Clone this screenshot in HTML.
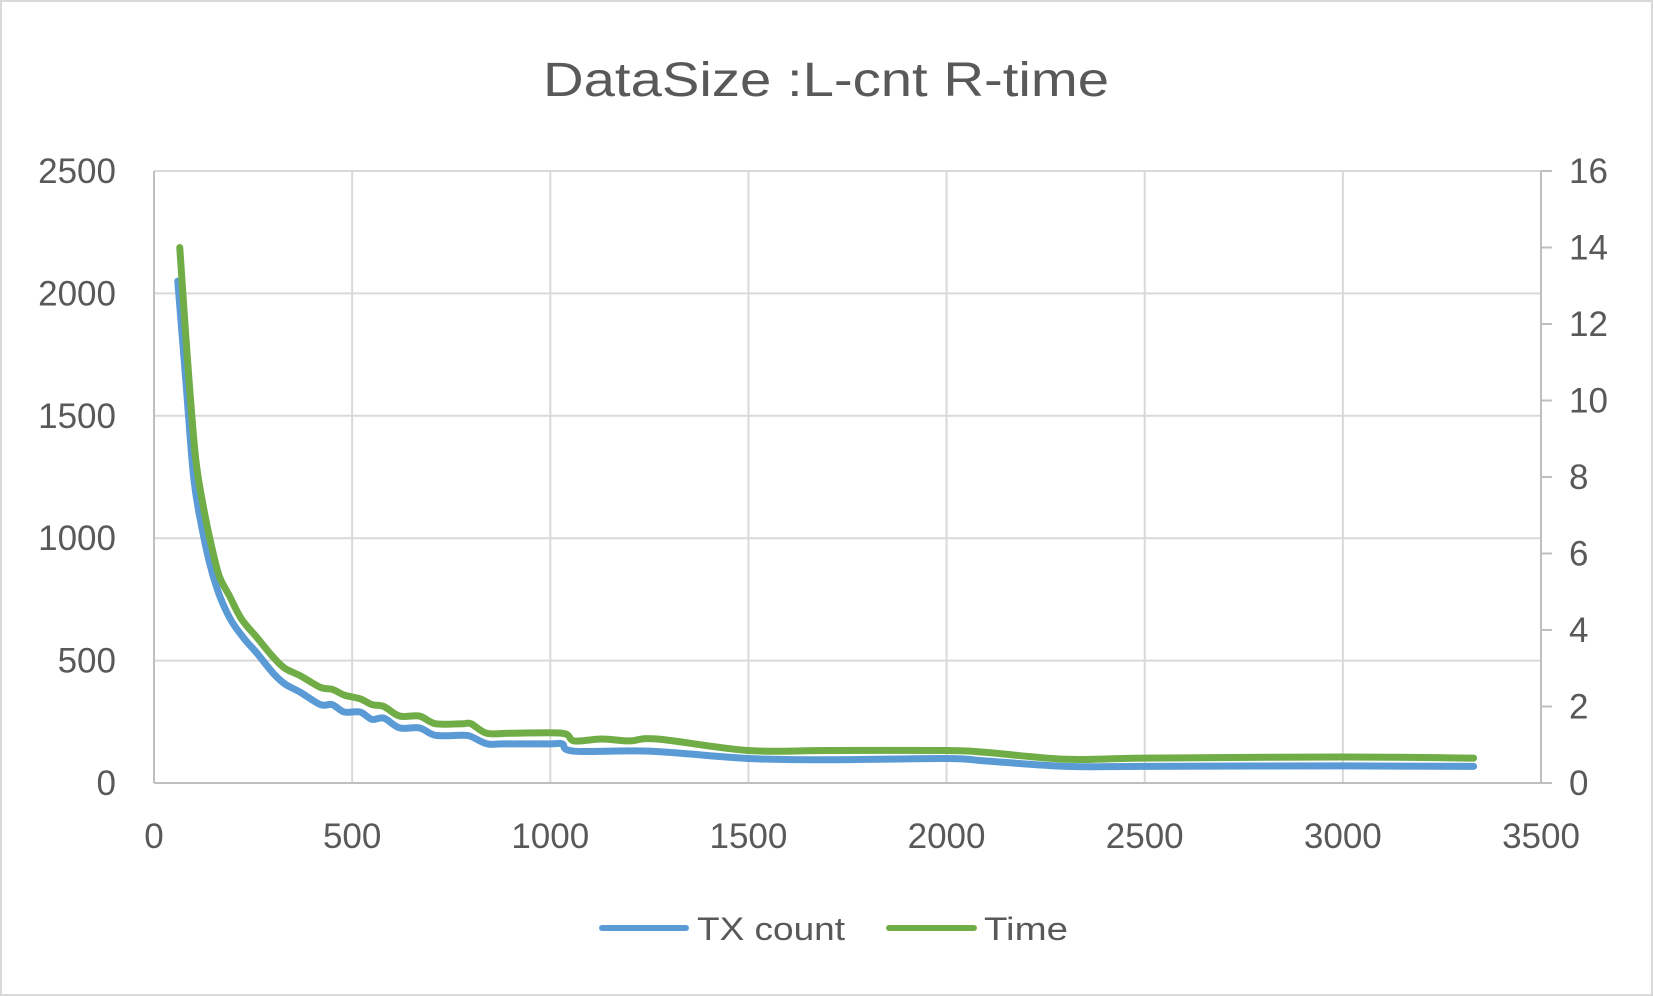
<!DOCTYPE html>
<html><head><meta charset="utf-8"><style>
html,body{margin:0;padding:0;background:#fff}
svg{display:block;font-family:"Liberation Sans",sans-serif}
</style></head><body>
<svg id="chart" width="1653" height="996" viewBox="0 0 1653 996" xmlns="http://www.w3.org/2000/svg">
<rect x="1" y="1" width="1651" height="994" fill="#fff" stroke="#d9d9d9" stroke-width="2"/>
<text x="826" y="96" text-anchor="middle" font-size="48" fill="#595959" textLength="566" lengthAdjust="spacingAndGlyphs">DataSize :L-cnt R-time</text>
<g id="grid"></g><g id="axes"></g><g id="series"></g>
<g>
<line x1="602" y1="928" x2="686" y2="928" stroke="#5B9BD5" stroke-width="6" stroke-linecap="round"/>
<text x="697" y="940" font-size="32" fill="#595959" textLength="148" lengthAdjust="spacingAndGlyphs">TX count</text>
<line x1="889" y1="928" x2="974" y2="928" stroke="#70AD47" stroke-width="6" stroke-linecap="round"/>
<text x="984" y="940" font-size="32" fill="#595959" textLength="84" lengthAdjust="spacingAndGlyphs">Time</text>
</g>
</svg>
<script>
const xTicks=[0,500,1000,1500,2000,2500,3000,3500];
const leftTicks=[0,500,1000,1500,2000,2500];
const rightTicks=[0,2,4,6,8,10,12,14,16];
const countX=[60,80,100,120,140,160,180,200,230,260,300,330,370,420,450,480,520,550,580,620,670,710,780,800,840,880,1000,1030,1060,1250,1500,1700,2000,2100,2300,2500,3000,3330];
const countY=[2050,1650,1250,1050,900,790,710,650,585,530,450,405,370,320,320,290,290,260,265,225,225,195,195,190,160,160,160,160,130,130,100,95,100,90,68,68,70,68];
const timeX=[65,85,105,125,145,165,190,220,260,300,330,370,420,450,480,520,550,580,620,670,710,780,800,840,900,1030,1060,1130,1200,1270,1500,1700,2000,2100,2300,2500,3000,3330];
const timeY=[14.0,11,8.5,7.2,6.2,5.4,4.9,4.3,3.8,3.3,3.0,2.8,2.5,2.45,2.3,2.2,2.05,2.0,1.75,1.75,1.55,1.55,1.55,1.3,1.3,1.3,1.1,1.15,1.1,1.15,0.85,0.85,0.85,0.8,0.62,0.65,0.68,0.65];
const L=154,R=1541,T=171,B=783;
const sx=v=>L+(v-0)/3500*(R-L);
const syL=v=>B-v/2500*(B-T);
const syR=v=>B-v/16*(B-T);
const NS="http://www.w3.org/2000/svg";
function mk(tag,parent,attrs){const e=document.createElementNS(NS,tag);for(const k in attrs)e.setAttribute(k,attrs[k]);parent.appendChild(e);return e;}
const grid=document.getElementById('grid'),axes=document.getElementById('axes'),series=document.getElementById('series');
leftTicks.forEach(v=>{
 if(v>0){const g=mk('line',grid,{x1:L,x2:R,y1:syL(v),y2:syL(v),stroke:'#d9d9d9','stroke-width':2});
 
 }
 const t=mk('text',axes,{x:L-38,y:syL(v)+12,'text-anchor':'end','font-size':35,fill:'#595959'});t.textContent=v;
 
 
});
xTicks.forEach(v=>{
 if(v>0&&v<3500){const g=mk('line',grid,{x1:sx(v),x2:sx(v),y1:T,y2:B,stroke:'#d9d9d9','stroke-width':2});
 
 }
 const t=mk('text',axes,{x:sx(v),y:B+65,'text-anchor':'middle','font-size':35,fill:'#595959'});t.textContent=v;
 
 
});
rightTicks.forEach(v=>{
 const k=mk('line',axes,{x1:R,x2:R+11,y1:syR(v),y2:syR(v),stroke:'#bfbfbf','stroke-width':2});
 
 
 const t=mk('text',axes,{x:R+28,y:syR(v)+12,'font-size':35,fill:'#595959'});t.textContent=v;
 
 
});
const la=mk('line',axes,{x1:L,x2:L,y1:T,y2:B,stroke:'#bfbfbf','stroke-width':2});


const ra=mk('line',axes,{x1:R,x2:R,y1:T,y2:B,stroke:'#bfbfbf','stroke-width':2});


const xa=mk('line',axes,{x1:L,x2:R,y1:B,y2:B,stroke:'#bfbfbf','stroke-width':2});


function smooth(pts){let d='M'+pts[0][0]+','+pts[0][1];
 for(let i=0;i<pts.length-1;i++){const p0=pts[i-1]||pts[i],p1=pts[i],p2=pts[i+1],p3=pts[i+2]||p2;
 const c1=[p1[0]+(p2[0]-p0[0])/6,p1[1]+(p2[1]-p0[1])/6],c2=[p2[0]-(p3[0]-p1[0])/6,p2[1]-(p3[1]-p1[1])/6];
 d+=' C'+c1.join(',')+' '+c2.join(',')+' '+p2.join(',');}return d;}
const p1=mk('path',series,{d:smooth(countX.map((x,i)=>[sx(x),syL(countY[i])])),fill:'none',stroke:'#5B9BD5','stroke-width':7,'stroke-linecap':'round','stroke-linejoin':'round'});


const p2=mk('path',series,{d:smooth(timeX.map((x,i)=>[sx(x),syR(timeY[i])])),fill:'none',stroke:'#70AD47','stroke-width':7,'stroke-linecap':'round','stroke-linejoin':'round'});


</script>
</body></html>
